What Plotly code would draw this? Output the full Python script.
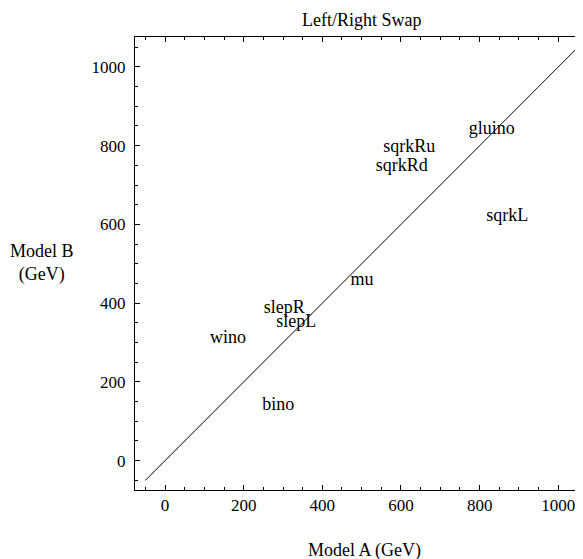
import plotly.graph_objects as go

labels = ["gluino", "sqrkRu", "sqrkRd", "sqrkL", "mu", "slepR", "slepL", "wino", "bino"]
model_a = [831, 621, 602, 870, 501, 303, 334, 160, 288]
model_b = [840, 796, 747, 620, 457, 386, 351, 311, 139]
diag = [-50, 1050]

FONT = "Liberation Serif"

# page body has an 8px margin, so the figure starts at (8, 8)
OFF = 8
W, H = 583, 559 - OFF
l, r, t = 135 - OFF, 0, 37 - OFF
b = H - (490 - OFF)
pw, ph = W - l - r, H - t - b
XSCALE = 0.3933  # px per unit
X0 = -76.3
X1 = X0 + pw / XSCALE


def px2paper(px, py):
    px -= OFF
    py -= OFF
    return (px - l) / pw, (H - b - py) / ph


fig = go.Figure()
fig.add_trace(go.Scatter(x=diag, y=diag, mode="lines",
                         line=dict(color="black", width=1), hoverinfo="skip"))
fig.add_trace(go.Scatter(x=model_a, y=model_b, mode="text", text=labels,
                         textposition="middle center",
                         textfont=dict(family=FONT, size=18, color="black")))

axis_common = dict(
    showgrid=False, zeroline=False, showline=True, linecolor="black", linewidth=1,
    ticks="inside", ticklen=5, tickcolor="black", tickwidth=1,
    dtick=200, tick0=0,
    tickfont=dict(family=FONT, size=17, color="black"),
    minor=dict(ticks="inside", ticklen=3, dtick=50, tick0=0, tickcolor="black", showgrid=False),
)

ann = []
for text, (x, y) in [("Left/Right Swap", (362, 20)),
                     ("Model A (GeV)", (364, 550)),
                     ("Model B<br>(GeV)", (42, 263))]:
    xp, yp = px2paper(x, y)
    ann.append(dict(text=text, x=xp, y=yp, xref="paper", yref="paper",
                    xanchor="center", yanchor="middle", showarrow=False,
                    font=dict(family=FONT, size=18, color="black")))

fig.update_layout(
    width=W, height=H,
    margin=dict(l=l, r=r, t=t, b=b),
    plot_bgcolor="white", paper_bgcolor="white",
    showlegend=False,
    xaxis=dict(range=[X0, X1], mirror="ticks", **axis_common),
    yaxis=dict(range=[-74.5, 1076], mirror=False, ticklabelstandoff=5, **axis_common),
    annotations=ann,
)

fig.write_html("out.html")
